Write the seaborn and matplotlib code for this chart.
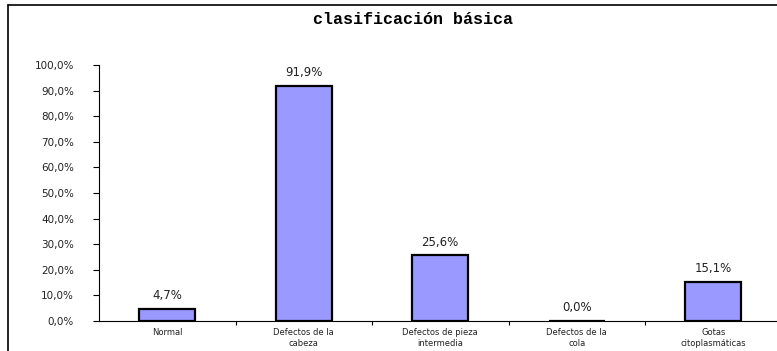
import matplotlib
matplotlib.use("Agg")
import matplotlib.pyplot as plt
from matplotlib.lines import Line2D
from matplotlib.ticker import FixedLocator
import seaborn as sns
import pandas as pd

categories = ["Normal", "Defectos de la\ncabeza", "Defectos de pieza\nintermedia",
              "Defectos de la\ncola", "Gotas\ncitoplasmáticas"]
values = [4.7, 91.9, 25.6, 0.0, 15.1]
y_ticks = [0, 10, 20, 30, 40, 50, 60, 70, 80, 90, 100]
title = "clasificación básica"

sns.set_theme(style="white")
plt.rcParams["font.family"] = ["DejaVu Sans"]

W, H = 777, 351
fig = plt.figure(figsize=(W / 100, H / 100), dpi=100)
left, right = 99, 777
bottom, top = 321, 65
ax = fig.add_axes([left / W, 1 - bottom / H, (right - left) / W, (bottom - top) / H])

df = pd.DataFrame({"cat": categories, "val": values})
sns.barplot(data=df, x="cat", y="val", ax=ax, color="#9999FF", saturation=1,
            edgecolor="black", linewidth=1.6, width=0.41)

step = 136.5
ax.set_xlim(-0.5, -0.5 + (right - left) / step)
ax.set_ylim(0, 100)
ax.set_yticks(y_ticks)
ax.set_yticklabels([f"{v:.1f}%".replace(".", ",") for v in y_ticks], fontsize=7.5, color="#222222")
ax.set_xticks(range(len(categories)))
ax.set_xticklabels(categories, fontsize=6, color="#222222", linespacing=1.3)
ax.xaxis.set_minor_locator(FixedLocator([0.5, 1.5, 2.5, 3.5]))
ax.tick_params(axis="x", which="major", length=0, pad=5)
ax.tick_params(axis="x", which="minor", length=3, width=0.8, color="black", direction="out", bottom=True)
ax.tick_params(axis="y", length=4, width=0.8, color="black", direction="out", left=True, pad=14)
ax.set_xlabel("")
ax.set_ylabel("")
for s in ["top", "right"]:
    ax.spines[s].set_visible(False)
for s in ["left", "bottom"]:
    ax.spines[s].set_color("black")
    ax.spines[s].set_linewidth(0.8)

ax.bar_label(ax.containers[0], labels=[f"{v:.1f}%".replace(".", ",") for v in values],
             padding=5, fontsize=8.5, color="#222222")

fig.text(413 / W, 1 - 20 / H, title, ha="center", va="center", fontsize=12,
         fontweight="bold", family="Liberation Mono", color="black")

# outer chart border
bx, by = 8 / W, 1 - 5 / H
fig.add_artist(Line2D([bx, bx], [0, by], color="black", lw=1.2, transform=fig.transFigure))
fig.add_artist(Line2D([bx, 1], [by, by], color="black", lw=1.2, transform=fig.transFigure))

fig.savefig("out.png", dpi=100)
